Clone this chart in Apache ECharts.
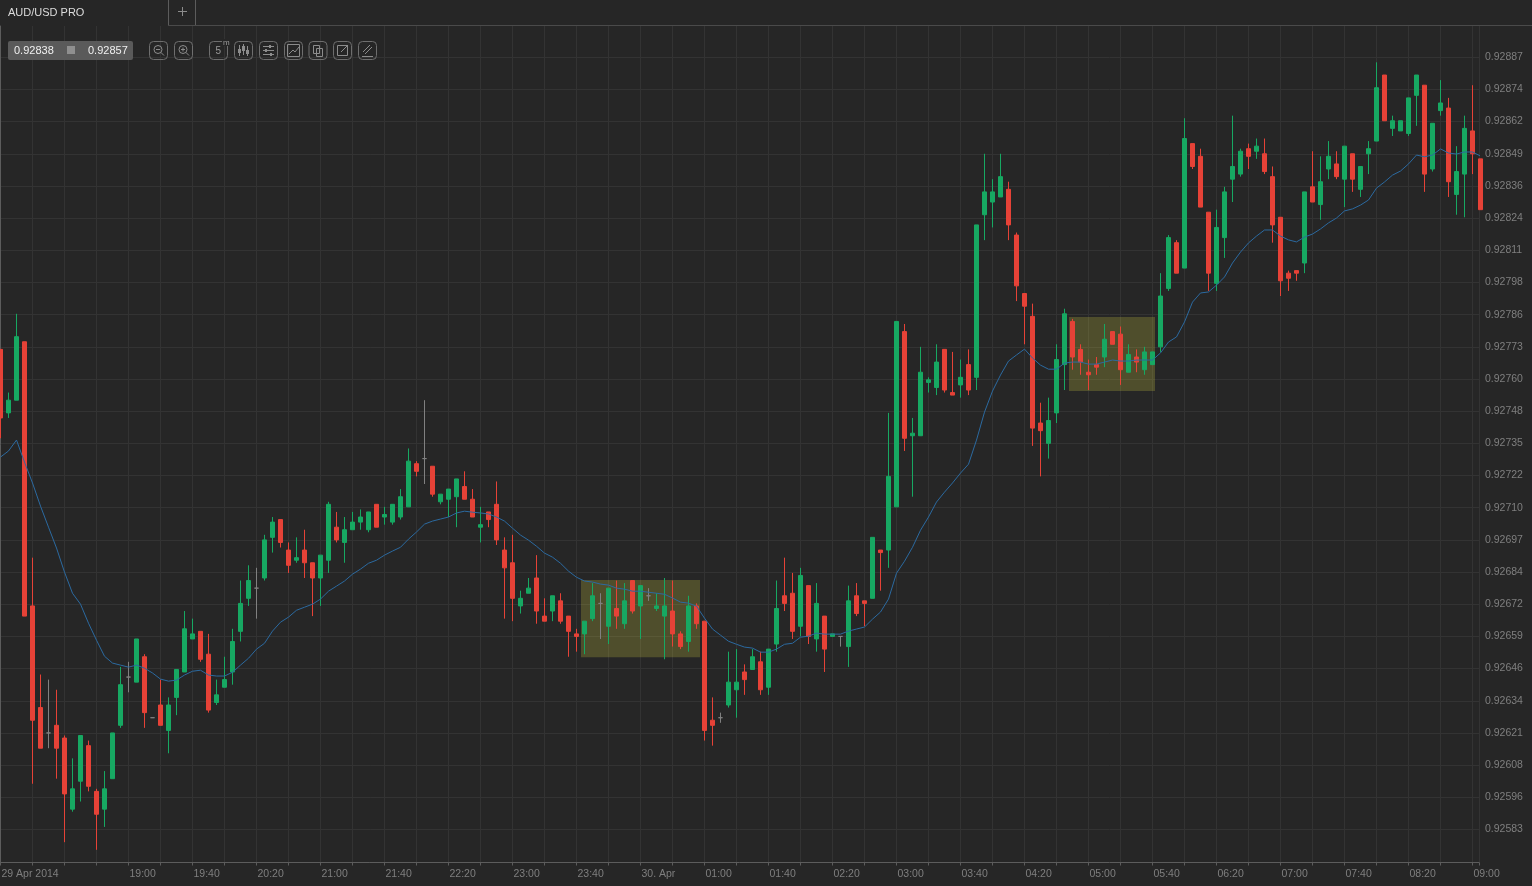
<!DOCTYPE html>
<html>
<head>
<meta charset="utf-8">
<title>AUD/USD PRO</title>
<script src="https://cdn.jsdelivr.net/npm/echarts@6/dist/echarts.min.js"></script>
<style>
html, body { margin: 0; padding: 0; background: #262626; }
#main { width: 1532px; height: 886px; }
</style>
</head>
<body>
<div id="main"></div>
<script>
// prices are kept in points (1 point = 0.00001), one row = 10 candles, 5 minutes each
const opens = [
  92772, 92747, 92752, 92775, 92671, 92631, 92621, 92624, 92619, 92591,
  92602, 92616, 92598, 92591, 92603, 92624, 92643, 92641, 92651, 92627,
  92632, 92622, 92635, 92645, 92658, 92661, 92652, 92633, 92639, 92645,
  92661, 92674, 92678, 92682, 92698, 92705, 92693, 92689, 92693, 92688,
  92682, 92689, 92702, 92696, 92701, 92704, 92701, 92711, 92706, 92704,
  92706, 92710, 92727, 92729, 92726, 92712, 92713, 92714, 92718, 92713,
  92702, 92708, 92711, 92693, 92688, 92671, 92676, 92682, 92667, 92669,
  92673, 92667, 92660, 92660, 92666, 92672, 92663, 92670, 92664, 92681,
  92671, 92675, 92670, 92667, 92669, 92660, 92657, 92671, 92665, 92626,
  92627, 92632, 92638, 92645, 92646, 92649, 92639, 92656, 92675, 92676,
  92663, 92679, 92658, 92667, 92659, 92659, 92655, 92675, 92673, 92674,
  92693, 92693, 92710, 92779, 92738, 92738, 92759, 92757, 92772, 92755,
  92758, 92766, 92761, 92825, 92830, 92832, 92835, 92817, 92794, 92785,
  92743, 92735, 92747, 92766, 92783, 92772, 92763, 92766, 92769, 92779,
  92778, 92763, 92769, 92764, 92766, 92773, 92796, 92814, 92804, 92853,
  92848, 92826, 92798, 92816, 92839, 92841, 92851, 92850, 92849, 92840,
  92824, 92802, 92803, 92806, 92836, 92829, 92843, 92845, 92839, 92849,
  92835, 92849, 92854, 92880, 92859, 92858, 92857, 92872, 92876, 92843,
  92866, 92867, 92833, 92841, 92858, 92847
]
const closes = [
  92745, 92752, 92777, 92667, 92626, 92615, 92621, 92615, 92597, 92599,
  92620, 92600, 92589, 92599, 92621, 92640, 92643, 92658, 92629, 92627,
  92624, 92632, 92646, 92662, 92660, 92650, 92630, 92636, 92642, 92657,
  92672, 92681, 92678, 92697, 92704, 92696, 92687, 92690, 92688, 92682,
  92691, 92711, 92697, 92701, 92704, 92706, 92708, 92702, 92707, 92711,
  92714, 92728, 92724, 92729, 92715, 92715, 92717, 92721, 92713, 92706,
  92703, 92705, 92697, 92686, 92674, 92674, 92678, 92669, 92665, 92675,
  92665, 92661, 92659, 92665, 92675, 92672, 92678, 92667, 92673, 92669,
  92679, 92675, 92671, 92671, 92660, 92655, 92671, 92664, 92622, 92624,
  92627, 92641, 92641, 92642, 92651, 92638, 92654, 92670, 92672, 92661,
  92683, 92659, 92672, 92654, 92660, 92659, 92673, 92668, 92672, 92698,
  92692, 92722, 92783, 92737, 92739, 92763, 92760, 92767, 92756, 92754,
  92761, 92756, 92821, 92834, 92834, 92840, 92821, 92797, 92789, 92741,
  92740, 92744, 92768, 92786, 92769, 92767, 92762, 92765, 92776, 92774,
  92764, 92770, 92767, 92771, 92771, 92793, 92816, 92802, 92855, 92844,
  92828, 92802, 92820, 92834, 92844, 92850, 92848, 92852, 92842, 92821,
  92799, 92800, 92802, 92834, 92830, 92838, 92848, 92840, 92852, 92839,
  92844, 92851, 92875, 92862, 92862, 92862, 92871, 92880, 92841, 92861,
  92869, 92838, 92842, 92859, 92849, 92827
]
const lows = [
  92737, 92745, 92752, 92667, 92601, 92615, 92615, 92603, 92578, 92590,
  92594, 92598, 92575, 92584, 92603, 92623, 92637, 92641, 92623, 92627,
  92624, 92613, 92628, 92645, 92658, 92649, 92629, 92632, 92639, 92640,
  92657, 92671, 92666, 92681, 92692, 92694, 92684, 92688, 92682, 92667,
  92671, 92684, 92696, 92688, 92701, 92701, 92700, 92702, 92703, 92703,
  92705, 92710, 92722, 92719, 92714, 92711, 92706, 92702, 92713, 92706,
  92696, 92702, 92695, 92666, 92665, 92668, 92676, 92664, 92665, 92665,
  92664, 92651, 92653, 92652, 92665, 92658, 92656, 92662, 92662, 92668,
  92658, 92673, 92669, 92650, 92655, 92654, 92653, 92662, 92618, 92616,
  92625, 92631, 92627, 92636, 92646, 92636, 92636, 92653, 92669, 92658,
  92659, 92656, 92653, 92645, 92659, 92655, 92647, 92667, 92663, 92674,
  92677, 92686, 92710, 92732, 92714, 92738, 92755, 92754, 92755, 92754,
  92753, 92754, 92756, 92815, 92820, 92832, 92815, 92791, 92774, 92734,
  92722, 92729, 92743, 92756, 92764, 92762, 92756, 92762, 92765, 92774,
  92758, 92763, 92763, 92762, 92766, 92771, 92795, 92802, 92804, 92843,
  92828, 92795, 92795, 92808, 92830, 92840, 92843, 92847, 92841, 92814,
  92793, 92795, 92799, 92802, 92830, 92823, 92839, 92839, 92828, 92834,
  92832, 92841, 92854, 92862, 92856, 92858, 92856, 92860, 92834, 92842,
  92864, 92832, 92825, 92824, 92841, 92827
]
const highs = [
  92772, 92755, 92786, 92775, 92690, 92644, 92642, 92638, 92620, 92611,
  92620, 92618, 92599, 92606, 92621, 92647, 92649, 92658, 92652, 92627,
  92642, 92635, 92646, 92669, 92666, 92661, 92660, 92642, 92651, 92662,
  92681, 92687, 92686, 92699, 92706, 92705, 92696, 92698, 92701, 92688,
  92691, 92712, 92708, 92706, 92708, 92709, 92708, 92711, 92710, 92711,
  92717, 92733, 92728, 92752, 92726, 92715, 92717, 92721, 92724, 92717,
  92710, 92708, 92720, 92698, 92699, 92677, 92682, 92691, 92674, 92675,
  92676, 92667, 92662, 92665, 92680, 92676, 92678, 92681, 92680, 92681,
  92679, 92678, 92676, 92682, 92681, 92661, 92675, 92672, 92665, 92635,
  92629, 92653, 92654, 92648, 92654, 92653, 92654, 92681, 92690, 92684,
  92686, 92679, 92680, 92667, 92660, 92659, 92679, 92680, 92673, 92698,
  92693, 92747, 92783, 92782, 92745, 92773, 92761, 92774, 92772, 92771,
  92768, 92772, 92821, 92849, 92839, 92849, 92838, 92818, 92794, 92790,
  92751, 92753, 92774, 92788, 92784, 92774, 92768, 92769, 92782, 92779,
  92781, 92774, 92772, 92773, 92771, 92802, 92817, 92815, 92863, 92853,
  92851, 92826, 92827, 92836, 92864, 92851, 92853, 92855, 92855, 92844,
  92824, 92803, 92803, 92834, 92850, 92848, 92854, 92850, 92852, 92849,
  92844, 92854, 92885, 92880, 92864, 92862, 92871, 92880, 92876, 92861,
  92878, 92871, 92852, 92864, 92876, 92847
]
// blue average line
const average = [
  92729.6, 92732.0, 92736.3, 92727.6, 92719.4, 92710.3, 92702.0, 92693.8, 92684.3, 92676.0,
  92671.7, 92664.2, 92657.5, 92651.2, 92648.5, 92647.7, 92646.9, 92647.7, 92646.5, 92644.6,
  92642.2, 92641.4, 92641.8, 92643.8, 92645.3, 92645.7, 92643.8, 92643.4, 92643.4, 92644.9,
  92647.7, 92650.4, 92654.0, 92656.3, 92661.1, 92664.6, 92666.6, 92669.3, 92670.5, 92671.7,
  92673.7, 92676.8, 92678.8, 92680.8, 92683.5, 92685.5, 92687.8, 92689.0, 92691.0, 92692.6,
  92694.1, 92697.3, 92700.1, 92703.2, 92704.4, 92705.2, 92706.0, 92707.6, 92708.3, 92707.9,
  92707.6, 92707.2, 92706.0, 92704.4, 92701.6, 92698.9, 92696.9, 92694.5, 92691.8, 92690.2,
  92687.8, 92684.7, 92682.3, 92680.8, 92680.4, 92679.6, 92679.2, 92678.0, 92677.6, 92676.8,
  92676.8, 92676.4, 92676.0, 92675.6, 92674.1, 92672.5, 92672.1, 92670.9, 92666.2, 92661.9,
  92659.5, 92657.1, 92655.9, 92654.8, 92654.4, 92652.8, 92652.8, 92654.0, 92655.9, 92656.3,
  92658.7, 92659.1, 92660.3, 92659.9, 92659.9, 92659.9, 92661.1, 92661.9, 92662.7, 92665.8,
  92668.6, 92673.7, 92683.9, 92688.6, 92694.1, 92700.8, 92706.0, 92711.9, 92715.8, 92719.4,
  92723.3, 92726.8, 92736.3, 92747.3, 92755.6, 92761.9, 92767.4, 92769.8, 92772.1, 92768.6,
  92765.8, 92764.2, 92764.2, 92766.6, 92767.0, 92767.0, 92766.2, 92766.2, 92767.0, 92767.8,
  92767.4, 92767.4, 92767.8, 92767.8, 92767.8, 92770.6, 92774.9, 92776.9, 92782.8, 92790.6,
  92794.2, 92794.6, 92797.3, 92800.5, 92806.0, 92810.3, 92813.9, 92816.6, 92819.0, 92819.0,
  92816.6, 92815.1, 92814.3, 92816.2, 92817.4, 92819.4, 92821.8, 92823.7, 92826.5, 92827.3,
  92828.8, 92830.8, 92835.5, 92837.9, 92840.6, 92842.2, 92845.0, 92848.5, 92847.8, 92848.5,
  92850.9, 92849.3, 92848.9, 92849.7, 92849.7, 92848.1
]
const priceTicks = [
  92583, 92595.67, 92608.33, 92621, 92633.67, 92646.33, 92659, 92671.67, 92684.33,
  92697, 92709.67, 92722.33, 92735, 92747.67, 92760.33, 92773, 92785.67, 92798.33,
  92811, 92823.67, 92836.33, 92849, 92861.67, 92874.33, 92887
]
// one label per 8 candles, the second slot has no room next to the date
const timeLabels = [
  '29 Apr 2014', '', '19:00', '19:40', '20:20', '21:00', '21:40', '22:20', '23:00', '23:40',
  '30. Apr', '01:00', '01:40', '02:20', '03:00', '03:40', '04:20', '05:00', '05:40',
  '06:20', '07:00', '07:40', '08:20', '09:00'
]
// yellow boxes: [first candle, top price], [last candle, bottom price]
const boxes = [
  [[72.5625, 92681.2], [87.4375, 92650.8]],
  [[133.5625, 92784.7], [144.3125, 92755.6]]
]

const bg = '#262626'
const gridColor = '#333333'
const axisColor = '#5c5c5c'
const labelColor = '#7f7f7f'
const iconColor = '#6e6e6e'

function ln (x1, y1, x2, y2, color) {
  return {
    type: 'line',
    z: 50,
    shape: { x1: x1, y1: y1, x2: x2, y2: y2 },
    style: { stroke: color || '#8c8c8c', lineWidth: 1 },
    silent: true
  }
}
function box (x, y, w, h, r, color) {
  return {
    type: 'rect',
    z: 50,
    shape: { x: x, y: y, width: w, height: h, r: r },
    style: { fill: 'none', stroke: color || iconColor, lineWidth: 1 },
    silent: true
  }
}
function fillBox (x, y, w, h, r, color) {
  return {
    type: 'rect',
    z: 50,
    shape: { x: x, y: y, width: w, height: h, r: r },
    style: { fill: color },
    silent: true
  }
}
function ring (x, y, r) {
  return {
    type: 'circle',
    z: 50,
    shape: { cx: x, cy: y, r: r },
    style: { fill: 'none', stroke: '#8c8c8c', lineWidth: 1 },
    silent: true
  }
}
function txt (x, y, s, color, size, weight) {
  return {
    type: 'text',
    z: 51,
    x: x,
    y: y,
    style: {
      text: s,
      fill: color,
      font: (weight || 'normal') + ' ' + size + 'px "Liberation Sans", Arial, sans-serif',
      textVerticalAlign: 'middle'
    },
    silent: true
  }
}

const toolbar = [
  // tab strip
  ln(168.5, 0, 168.5, 25.5, axisColor),
  ln(195.5, 0, 195.5, 25.5, axisColor),
  ln(168, 25.5, 1532, 25.5, '#4a4a4a'),
  txt(8, 12.5, 'AUD/USD PRO', '#dcdcdc', 11),
  ln(178, 11.5, 187, 11.5, '#8c8c8c'),
  ln(182.5, 7, 182.5, 16, '#8c8c8c'),
  // bid / ask box
  fillBox(8, 41, 125, 19, 2, '#5a5a5a'),
  txt(14, 51, '0.92838', '#f0f0f0', 11),
  fillBox(67, 46, 8, 8, 0, '#8f8f8f'),
  txt(88, 51, '0.92857', '#f0f0f0', 11),
  // zoom out
  box(149.5, 41.5, 18, 18, 4),
  ring(158, 49.5, 4),
  ln(161, 52.5, 164, 55.5),
  ln(156, 49.5, 160, 49.5),
  // zoom in
  box(174.5, 41.5, 18, 18, 4),
  ring(183, 49.5, 4),
  ln(186, 52.5, 189, 55.5),
  ln(181, 49.5, 185, 49.5),
  ln(183, 47.5, 183, 51.5),
  // period
  box(209.5, 41.5, 18, 18, 4),
  fillBox(222, 39, 8, 7, 0, bg),
  txt(215.5, 51, '5', '#9a9a9a', 10),
  txt(223, 43, 'm', '#9a9a9a', 8),
  // candles
  box(234.5, 41.5, 18, 18, 4),
  ln(239.5, 45, 239.5, 56),
  ln(243.5, 44, 243.5, 55),
  ln(247.5, 46, 247.5, 56),
  fillBox(238, 49, 3, 4, 0, '#8c8c8c'),
  fillBox(242, 46, 3, 5, 0, '#8c8c8c'),
  fillBox(246, 50, 3, 4, 0, '#8c8c8c'),
  // settings
  box(259.5, 41.5, 18, 18, 4),
  ln(263, 46.5, 274, 46.5),
  ln(263, 50.5, 274, 50.5),
  ln(263, 54.5, 274, 54.5),
  fillBox(269, 45, 2, 3, 0, '#8c8c8c'),
  fillBox(265, 49, 2, 3, 0, '#8c8c8c'),
  fillBox(270, 53, 2, 3, 0, '#8c8c8c'),
  // fit chart
  box(284.5, 41.5, 18, 18, 4),
  box(287.5, 44.5, 12, 12, 0, '#8c8c8c'),
  ln(289, 54, 293, 50),
  ln(293, 50, 295, 52),
  ln(295, 52, 299, 47),
  // copy
  box(309, 41.5, 18, 18, 4),
  box(313.5, 45.5, 6, 8, 0, '#8c8c8c'),
  box(316.5, 48.5, 6, 8, 0, '#8c8c8c'),
  // edit
  box(333.5, 41.5, 18, 18, 4),
  box(337.5, 45.5, 10, 10, 0, '#8c8c8c'),
  ln(341, 52, 348, 45),
  // draw
  box(358.5, 41.5, 18, 18, 4),
  ln(363, 52, 370, 45),
  ln(365, 54, 372, 47),
  ln(362, 56.5, 373, 56.5)
]

const chart = echarts.init(document.getElementById('main'))
chart.setOption({
  animation: false,
  backgroundColor: bg,
  textStyle: { fontFamily: '"Liberation Sans", Arial, sans-serif' },
  grid: { left: 0.5, top: 26, width: 1478.5, height: 836.5, outerBoundsMode: 'none' },
  xAxis: {
    type: 'value',
    min: 0,
    max: 184.8125,
    interval: 4,
    axisLine: { onZero: false, lineStyle: { color: axisColor } },
    axisTick: { length: 3, lineStyle: { color: axisColor } },
    splitLine: { lineStyle: { color: gridColor } },
    axisLabel: {
      color: labelColor,
      fontSize: 10.5,
      margin: 6,
      align: 'left',
      padding: [0, 0, 0, 1],
      hideOverlap: false,
      showMinLabel: true,
      showMaxLabel: true,
      formatter: function (v) {
        return v % 8 === 0 ? timeLabels[v / 8] : ''
      }
    }
  },
  yAxis: {
    type: 'value',
    position: 'right',
    min: 92570,
    max: 92899.3,
    scale: true,
    axisLine: { show: true, lineStyle: { color: axisColor } },
    axisTick: { show: false, customValues: priceTicks },
    splitLine: { lineStyle: { color: gridColor } },
    axisLabel: {
      color: labelColor,
      fontSize: 10.5,
      margin: 6,
      padding: [2, 0, 0, 0],
      customValues: priceTicks,
      formatter: function (v) {
        return (v / 100000).toFixed(5)
      }
    }
  },
  series: [
    {
      type: 'candlestick',
      barWidth: 4,
      clip: true,
      itemStyle: {
        color: '#17a862',
        color0: '#e64237',
        borderColor: '#17a862',
        borderColor0: '#e64237',
        borderColorDoji: '#808080',
        borderWidth: 1
      },
      data: opens.map(function (o, i) {
        return [i, o, closes[i], lows[i], highs[i]]
      })
    },
    {
      type: 'line',
      z: 3,
      showSymbol: false,
      silent: true,
      lineStyle: { color: '#2c6aa0', width: 1 },
      data: average.map(function (v, i) {
        return [i, v]
      })
    },
    {
      // boxes sit over candles and line, they tint both
      type: 'line',
      z: 4,
      silent: true,
      data: [],
      markArea: {
        silent: true,
        itemStyle: { color: 'rgba(245, 240, 70, 0.2)' },
        data: boxes.map(function (b) {
          return [{ coord: b[0] }, { coord: b[1] }]
        })
      }
    }
  ],
  graphic: { elements: toolbar }
})
</script>
</body>
</html>
